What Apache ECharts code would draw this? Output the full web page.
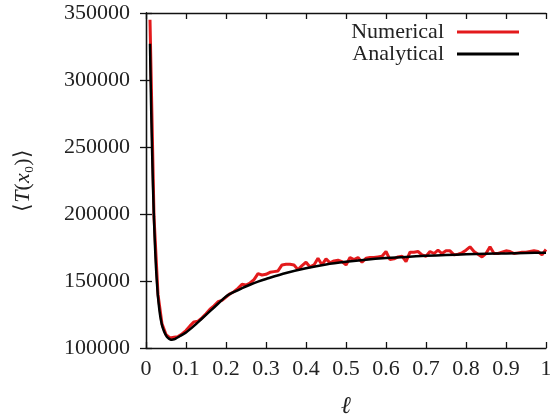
<!DOCTYPE html>
<html>
<head>
<meta charset="utf-8">
<script src="https://cdn.jsdelivr.net/npm/echarts@6/dist/echarts.min.js"></script>
<style>html,body{margin:0;padding:0;background:#fff;}#c{width:550px;height:418px;}</style>
</head>
<body>
<div id="c"></div>
<script>
// Numerical series: x = 0.01 .. 1.00
var numX = [];
for (var i = 1; i <= 100; i++) numX.push(+(i / 100).toFixed(2));
var numY = [
345000,198000,140000,118000,110000,107500,108000,108500,110500,113000,
116500,119500,120000,122500,125500,129000,131500,134500,135500,138000,
140500,142000,144500,147500,147000,148500,151000,155500,154500,155000,
156500,157000,157500,162000,162500,162500,162000,158500,161500,164000,
160500,162000,167000,162000,166500,163500,165000,165500,164500,162000,
167500,166000,167500,164000,167000,167500,167500,168000,168500,172000,
166000,166500,168000,168500,164500,171500,171500,172000,169500,168500,
172000,170500,173000,170500,172500,172500,169500,170000,171000,173000,
175500,172000,170000,168000,170500,175500,170500,170500,171500,172500,
172000,170500,171000,171500,171500,172000,172500,172000,169500,173500
];
// Analytical curve
var anaX = [0.01,0.0125,0.015,0.0175,0.02,0.0225,0.025,0.0275,0.03,0.035,0.04,0.045,0.05,0.055,0.06,0.065,0.07,0.075,0.08,0.09,0.10,0.12,0.14,0.16,0.18,0.20,0.22,0.24,0.26,0.28,0.30,0.35,0.40,0.45,0.50,0.55,0.60,0.65,0.70,0.75,0.80,0.85,0.90,0.95,1.00];
var anaY = [327000,285000,250000,220000,196000,176000,160000,148000,138000,125000,117000,112500,109500,107500,106500,106200,106500,107200,108000,109800,111500,116500,122000,127500,133000,138500,141800,144600,147200,149500,151500,156000,159500,162300,164300,165900,167100,168000,168800,169400,169900,170300,170600,170900,171100];
var xTicks = {min: 0, max: 1, interval: 0.1};
var yTicks = {min: 100000, max: 350000, interval: 50000};
var seriesNames = ['Numerical', 'Analytical'];

function zip(a, b) { return a.map(function (v, i) { return [v, b[i]]; }); }

var font = 'Liberation Serif';
var txt = '#222';
var axisLine = {show: true, lineStyle: {color: '#111', width: 1.3}};
var tick = {show: true, inside: true, length: 6, lineStyle: {color: '#111', width: 1.3}};

var chart = echarts.init(document.getElementById('c'), null, {renderer: 'canvas'});
chart.setOption({
  animation: false,
  backgroundColor: '#fff',
  grid: {left: 146, right: 4, top: 13, bottom: 70, containLabel: false, outerBoundsMode: 'none'},
  legend: {
    right: 31, top: 21, orient: 'vertical', align: 'right', padding: 0,
    itemWidth: 62, itemHeight: 3, itemGap: 0,
    icon: 'rect',
    textStyle: {fontFamily: font, fontSize: 22, color: txt, lineHeight: 22, padding: [0, 8, 0, 0]},
    data: seriesNames
  },
  xAxis: [{
    type: 'value', min: xTicks.min, max: xTicks.max, interval: xTicks.interval,
    axisLine: axisLine, axisTick: tick, splitLine: {show: false},
    axisLabel: {fontFamily: font, fontSize: 22, color: txt, margin: 10,
      formatter: function (v) { return String(+v.toFixed(1)); }},
    name: 'ℓ', nameLocation: 'middle', nameGap: 47,
    nameTextStyle: {fontFamily: font, fontSize: 24, color: txt, fontStyle: 'italic'}
  }, {
    type: 'value', position: 'top', min: xTicks.min, max: xTicks.max, interval: xTicks.interval,
    axisLine: axisLine, axisTick: tick, axisLabel: {show: false}, splitLine: {show: false}
  }],
  yAxis: [{
    type: 'value', min: yTicks.min, max: yTicks.max, interval: yTicks.interval,
    axisLine: axisLine, axisTick: tick, splitLine: {show: false},
    axisLabel: {fontFamily: font, fontSize: 22, color: txt, margin: 16,
      formatter: function (v) { return String(Math.round(v)); }},
    name: '{n|⟨}{i|T}{n|(}{i|x}{n|₀)⟩}', nameLocation: 'middle', nameGap: 112, nameRotate: 90,
    nameTextStyle: {
      fontFamily: font, fontSize: 22, color: txt,
      rich: {
        n: {fontFamily: font, fontSize: 22, color: txt},
        i: {fontFamily: font, fontSize: 22, color: txt, fontStyle: 'italic'}
      }
    }
  }, {
    type: 'value', position: 'right', min: yTicks.min, max: yTicks.max, interval: yTicks.interval,
    axisLine: axisLine, axisTick: tick, axisLabel: {show: false}, splitLine: {show: false}
  }],
  series: [{
    name: seriesNames[0], type: 'line', data: zip(numX, numY), showSymbol: false,
    lineStyle: {color: '#e31a1c', width: 3}, itemStyle: {color: '#e31a1c'}, z: 2
  }, {
    name: seriesNames[1], type: 'line', data: zip(anaX, anaY), showSymbol: false, smooth: 0.3,
    lineStyle: {color: '#000', width: 2.5}, itemStyle: {color: '#000'}, z: 3
  }]
});
</script>
</body>
</html>
